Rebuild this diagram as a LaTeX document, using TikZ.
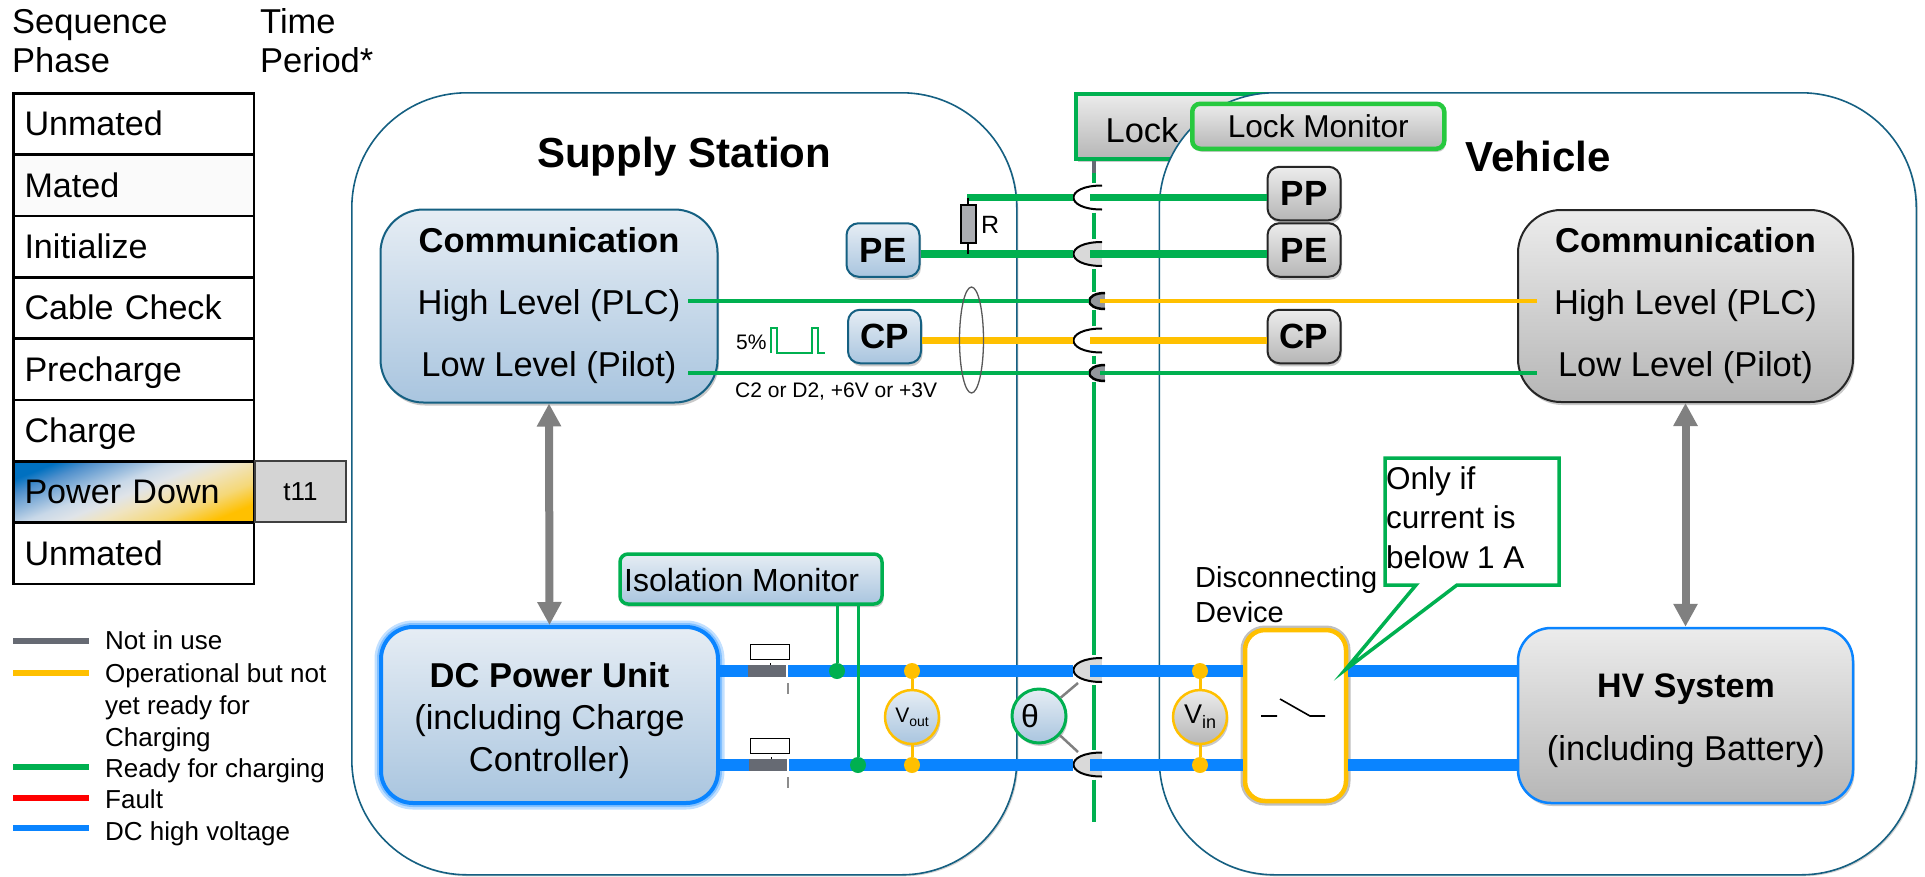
\documentclass[tikz,border=0pt]{standalone}
\usepackage{fontspec}
\setmainfont{Liberation Sans}
\usetikzlibrary{arrows.meta, shadows}

\definecolor{stationteal}{HTML}{156082}
\definecolor{okgreen}{HTML}{00B050}
\definecolor{brightgreen}{HTML}{27C93F}
\definecolor{opyellow}{HTML}{FFC000}
\definecolor{hvblue}{HTML}{0A84FF}
\definecolor{idlegray}{HTML}{666A73}
\definecolor{bluetop}{HTML}{E6EDF4}
\definecolor{bluebot}{HTML}{A9C5DF}
\definecolor{graytop}{HTML}{ECECEC}
\definecolor{graybot}{HTML}{B6B6B6}
\definecolor{phaseA}{HTML}{0070C0}
\definecolor{phaseB}{HTML}{5090CC}
\definecolor{phaseC}{HTML}{C8D8E8}
\definecolor{phaseD}{HTML}{E0E4E8}
\definecolor{phaseE}{HTML}{F0E4C0}
\definecolor{phaseF}{HTML}{F5D878}

\pgfdeclareverticalshading{phaseshade}{100bp}{color(0bp)=(opyellow); color(25bp)=(opyellow); color(34bp)=(phaseF); color(44bp)=(phaseE); color(50bp)=(phaseD); color(56bp)=(phaseC); color(69bp)=(phaseB); color(75bp)=(phaseA); color(100bp)=(phaseA)}

\tikzset{
  fs/.style 2 args={font=\fontsize{#1}{#2}\selectfont},
  softshadow/.style={drop shadow={shadow xshift=1.5pt, shadow yshift=-3pt, opacity=.35, fill=black!60}},
  seqrow/.style={draw=black, line width=2.5pt, minimum width=240.5pt, minimum height=61.3pt, inner sep=0pt,
    text width=218pt, align=left, text height=31pt, text depth=7pt, fs={34.1}{39}},
  plain/.style={inner sep=0pt, fs={34.5}{39}},
  keyswatch/.style={minimum width=76pt, minimum height=6pt, inner sep=0pt},
  keytext/.style={inner sep=0pt, align=left, fs={26}{32}},
  yard/.style={draw=stationteal, line width=1.6pt, fill=white, rounded corners=115pt, minimum height=782pt, anchor=north west,
    drop shadow={shadow xshift=1.5pt, shadow yshift=-1.5pt, opacity=.3, fill=black!60}},
  bluebox/.style={draw=stationteal, line width=2pt, top color=bluetop, bottom color=bluebot, softshadow, inner sep=0pt},
  graybox/.style={draw=black!85, line width=2pt, top color=graytop, bottom color=graybot, softshadow, inner sep=0pt},
  tagbox/.style={minimum width=73pt, minimum height=53.5pt, rounded corners=12pt, font=\fontsize{35}{37}\selectfont\bfseries},
  meter/.style={circle, minimum size=54pt, inner sep=0pt, line width=2.5pt, softshadow},
  hvdot/.style={circle, minimum size=16pt, inner sep=0pt},
  wirebig/.style={line width=7.5pt},
  wiresmall/.style={line width=4pt},
  wirehv/.style={hvblue, line width=12pt},
  latchline/.style={okgreen, line width=4pt},
  pics/jack/.style={code={
    \filldraw[fill=#1, draw=black, line width=2pt] (15,-12) .. controls (-23,-12) and (-23,12) .. (15,12);
    \coordinate (-west) at (-14,0);
    \coordinate (-east) at (3,0);
    \coordinate (-north) at (7,-15);
    \coordinate (-south) at (7,15);
  }},
  pics/jack/.default=black!15,
  pics/smalljack/.style={code={
    \filldraw[fill=idlegray!70, draw=black, line width=2.5pt] (8,-8) .. controls (-13,-8) and (-13,8) .. (8,8);
    \coordinate (-west) at (-8,0);
    \coordinate (-east) at (3,0);
    \coordinate (-north) at (-3,-9);
    \coordinate (-south) at (-3,9);
  }},
}

\begin{document}
\begin{tikzpicture}[x=1pt, y=-1pt, >=Latex]

  \useasboundingbox (0,0) rectangle (1925,876);

  % sequence table
  \node[plain, anchor=west, align=left] (seqhead) at (12,41) {Sequence\\Phase};
  \node[plain, anchor=west, align=left] (timehead) at (260,41) {Time\\Period*};

  \node[seqrow, anchor=north west] (rowA) at (12,92) {Unmated};
  \node[seqrow, anchor=north west, fill=black!2] (rowB) at (12,153.4) {Mated};
  \node[seqrow, anchor=north west] (rowC) at (12,214.7) {Initialize};
  \node[seqrow, anchor=north west] (rowD) at (12,276) {Cable Check};
  \node[seqrow, anchor=north west] (rowE) at (12,337.4) {Precharge};
  \node[seqrow, anchor=north west] (rowF) at (12,398.7) {Charge};
  \node[seqrow, anchor=north west, shade, shading=phaseshade, shading angle=22] (rowG) at (12,460) {Power Down};
  \node[seqrow, anchor=north west] (rowH) at (12,521.4) {Unmated};
  \node[draw=black!75, line width=2pt, fill=black!17, minimum width=91pt, minimum height=61.3pt, inner sep=0pt, anchor=north west, fs={26}{30}] (tcell) at (254,460) {t11};

  % key
  \node[keyswatch, fill=idlegray] (keyA) at (51,641) {};
  \node[keyswatch, fill=opyellow] (keyB) at (51,673) {};
  \node[keyswatch, fill=okgreen] (keyC) at (51,767) {};
  \node[keyswatch, fill=red] (keyD) at (51,798) {};
  \node[keyswatch, fill=hvblue] (keyE) at (51,828) {};
  \node[keytext, anchor=base west] (keytxtA) at (105,649) {Not in use};
  \node[keytext, anchor=west] (keytxtB) at (105,708) {Operational but not\\yet ready for\\Charging};
  \node[keytext, anchor=base west] (keytxtC) at (105,777) {Ready for charging};
  \node[keytext, anchor=base west] (keytxtD) at (105,808.5) {Fault};
  \node[keytext, anchor=base west] (keytxtE) at (105,840) {DC high voltage};

  % the two sides and the lock between them
  \node[yard, minimum width=665pt] (station) at (351,92) {};
  \node[draw=okgreen, line width=4pt, top color=graytop, bottom color=graybot, softshadow, minimum width=196pt, minimum height=65pt, inner sep=0pt, anchor=north west] (lockbox) at (1074,91.5) {};
  \node[plain] (locktxt) at (1142,130) {Lock};
  \node[yard, minimum width=757pt] (vehicle) at (1158.5,92) {};
  \node[draw=brightgreen, line width=4.5pt, top color=graytop, bottom color=graybot, softshadow, rounded corners=8pt, minimum width=252pt, minimum height=45pt, inner sep=0pt, fs={31.6}{34}, anchor=north west] (lockmon) at (1190,101.5) {Lock Monitor};

  \node[inner sep=0pt, font=\fontsize{42}{44}\selectfont\bfseries] (stationtxt) at (684,157) {Supply Station};
  \node[inner sep=0pt, font=\fontsize{42}{44}\selectfont\bfseries] (vehicletxt) at (1538,156) {Vehicle};

  % communication
  \node[bluebox, minimum width=337pt, minimum height=193pt, rounded corners=43pt, align=center, fs={34.5}{62}] (commL) at (549,306) {\textbf{Communication}\\High Level (PLC)\\Low Level (Pilot)};
  \node[graybox, minimum width=335pt, minimum height=192pt, rounded corners=43pt, align=center, fs={34.5}{62}] (commR) at (1685.5,306) {\textbf{Communication}\\High Level (PLC)\\Low Level (Pilot)};

  \node[bluebox, tagbox] (peL) at (883,250) {PE};
  \node[bluebox, tagbox] (cpL) at (884.5,336.5) {CP};
  \node[graybox, tagbox] (ppR) at (1304,193.5) {PP};
  \node[graybox, tagbox] (peR) at (1304,250) {PE};
  \node[graybox, tagbox] (cpR) at (1304,336.5) {CP};

  % power side
  \node[bluebox, draw=hvblue, line width=4pt, minimum width=337pt, minimum height=176pt, rounded corners=32pt,
    preaction={draw=hvblue!25, line width=13pt, rounded corners=32pt}, preaction={draw=hvblue!50, line width=8pt, rounded corners=32pt}] (dcunit) at (549.5,715) {};
  \node[inner sep=0pt, align=center, fs={34.5}{42}] (dcunittxt) at (549.5,721) {\textbf{DC Power Unit}\\(including Charge\\Controller)};
  \node[graybox, draw=hvblue, line width=2.5pt, minimum width=335pt, minimum height=175pt, rounded corners=33pt] (hvsys) at (1685.5,715.5) {};
  \node[inner sep=0pt, anchor=base, font=\fontsize{34}{36}\selectfont\bfseries] (hvtxtA) at (1686,697) {HV System};
  \node[inner sep=0pt, anchor=base, fs={34.5}{36}] (hvtxtB) at (1686,760) {(including Battery)};
  \node[draw=opyellow, line width=4.5pt, fill=white, minimum width=101pt, minimum height=171pt, rounded corners=20pt, inner sep=0pt,
    preaction={draw=black!25, line width=9pt, rounded corners=20pt}] (dswitch) at (1295.5,715.5) {};
  \node[plain, anchor=north west, align=left, fs={29}{35}] (dswitchtxt) at (1195,566) {Disconnecting\\Device};

  \draw[black, line width=1.6pt] (1261,716) -- (1277,716) (1280,699) -- (1310,716) -- (1325,716);

  \draw[line width=8pt, draw=black!50, {Triangle[length=23pt,width=23pt]}-{Triangle[length=23pt,width=23pt]}] (commL.south) -- (dcunit.north);
  \draw[line width=8pt, draw=black!50, {Triangle[length=23pt,width=23pt]}-{Triangle[length=23pt,width=23pt]}] (commR.south) -- (hvsys.north);

  % plugs at the centre
  \pic (jPP) at (1087,197.5) {jack=white};
  \pic (jPE) at (1087,254) {jack};
  \pic (jPLC) at (1097,301) {smalljack};
  \pic (jCP) at (1087,340.5) {jack=white};
  \pic (jLOW) at (1097,373) {smalljack};
  \pic (jHVa) at (1087,670) {jack};
  \pic (jHVb) at (1087,764.5) {jack};

  % lock pin
  \coordinate (pinA) at (1094,161);
  \coordinate (pinB) at (1094,173);
  \coordinate (pinEnd) at (1094,822);
  \draw[idlegray, line width=4pt] (pinA) -- (pinB);
  \draw[latchline] (pinB) -- (jPP-north);
  \draw[latchline] (jPP-south) -- (jPE-north);
  \draw[latchline] (jPE-south) -- (jPLC-north);
  \draw[latchline] (jPLC-south) -- (jCP-north);
  \draw[latchline] (jCP-south) -- (jLOW-north);
  \draw[latchline] (jLOW-south) -- (jHVa-north);
  \draw[latchline] (jHVa-south) -- (jHVb-north);
  \draw[latchline] (jHVb-south) -- (pinEnd);

  % signal wires
  \coordinate (ppstart) at (967,197.5);
  \coordinate (plcstart) at (688,301);
  \coordinate (plcend) at (1537,301);
  \coordinate (lowstart) at (688,373);
  \coordinate (lowend) at (1537,373);

  \draw[okgreen, wirebig] (ppstart) -- (jPP-west);
  \draw[okgreen, wirebig] (jPP-east) -- (ppR.west |- jPP-east);
  \draw[okgreen, wirebig] (peL.east |- jPE-west) -- (jPE-west);
  \draw[okgreen, wirebig] (jPE-east) -- (peR.west |- jPE-east);
  \draw[opyellow, wirebig] (cpL.east |- jCP-west) -- (jCP-west);
  \draw[opyellow, wirebig] (jCP-east) -- (cpR.west |- jCP-east);
  \draw[okgreen, wiresmall] (plcstart) -- (jPLC-west);
  \draw[opyellow, wiresmall] (jPLC-east) -- (plcend);
  \draw[okgreen, wiresmall] (lowstart) -- (jLOW-west);
  \draw[okgreen, wiresmall] (jLOW-east) -- (lowend);

  % pull-up resistor
  \node[draw=black, line width=2pt, fill=idlegray!55, minimum width=15pt, minimum height=38pt, inner sep=0pt] (resR) at (968,224) {};
  \coordinate (resA) at (968,197.5);
  \coordinate (resB) at (968,254);
  \draw[black, line width=1.5pt] (resA) -- (resR.north);
  \draw[black, line width=1.5pt] (resR.south) -- (resB);
  \node[inner sep=0pt, anchor=west, fs={25}{27}] (resRtxt) at (981,225) {R};

  \draw[black!65, line width=1.3pt] (971.5,340) ellipse [x radius=12, y radius=53];

  \node[inner sep=0pt, anchor=west, fs={21}{23}] (dutytxt) at (736,342) {5\%};
  \draw[okgreen, line width=1.5pt] (771,353) -- (771,328) -- (777,328) -- (777,353) -- (812,353) -- (812,328) -- (818,328) -- (818,353) -- (825,353);
  \node[inner sep=0pt, anchor=west, fs={21}{23}] (statetxt) at (735,392) {C2 or D2, +6V or +3V};

  % DC rails
  \node[fill=idlegray, minimum width=38pt, minimum height=12pt, inner sep=0pt] (contA) at (767,671) {};
  \node[fill=idlegray, minimum width=38pt, minimum height=12pt, inner sep=0pt] (contB) at (768,765) {};
  \draw[wirehv] (dcunit.east |- contA.west) -- (contA.west);
  \draw[wirehv] ([xshift=2pt]contA.east) -- (jHVa-west |- contA.east);
  \draw[wirehv] (dcunit.east |- contB.west) -- (contB.west);
  \draw[wirehv] ([xshift=2pt]contB.east) -- (jHVb-west |- contB.east);
  \draw[wirehv] (jHVa-east |- contA.east) -- (dswitch.west |- contA.east);
  \draw[wirehv] (jHVb-east |- contB.east) -- (dswitch.west |- contB.east);
  \draw[wirehv] (dswitch.east |- contA.east) -- (hvsys.west |- contA.east);
  \draw[wirehv] (dswitch.east |- contB.east) -- (hvsys.west |- contB.east);

  \node[draw=black, line width=1pt, fill=white, minimum width=39pt, minimum height=15pt, inner sep=0pt] (coilA) at (769.5,651.5) {};
  \node[draw=black, line width=1pt, fill=white, minimum width=39pt, minimum height=15pt, inner sep=0pt] (coilB) at (769.5,745.5) {};
  \draw[black!45, line width=1.5pt] (788,683) -- (788,694) (788,777) -- (788,788);
  \draw[black, line width=1pt] (770,663) -- (770,665) (771,757) -- (771,759);

  % isolation monitor
  \node[bluebox, draw=okgreen, line width=3.5pt, minimum width=262pt, minimum height=50pt, rounded corners=8pt] (isomon) at (751,579) {};
  \node[inner sep=0pt, anchor=west, fs={32}{34}] (isotxt) at (624,580) {Isolation Monitor};
  \node[hvdot, fill=okgreen] (dotisoA) at (837,671) {};
  \node[hvdot, fill=okgreen] (dotisoB) at (858,765) {};
  \draw[okgreen, line width=3pt] (isomon.south -| dotisoA) -- (dotisoA);
  \draw[okgreen, line width=3pt] (isomon.south -| dotisoB) -- (dotisoB);

  % voltage meters
  \node[meter, draw=opyellow, top color=bluetop, bottom color=bluebot, fs={21}{23}] (vout) at (912,717) {V\raisebox{-4pt}{\fontsize{14}{16}\selectfont out}};
  \node[hvdot, fill=opyellow] (dotoutA) at (912,671) {};
  \node[hvdot, fill=opyellow] (dotoutB) at (912,765) {};
  \draw[opyellow, line width=3pt] (dotoutA) -- (vout);
  \draw[opyellow, line width=3pt] (vout) -- (dotoutB);

  \node[meter, draw=opyellow, top color=graytop, bottom color=graybot, fs={27}{29}] (vin) at (1200,717) {V\raisebox{-5pt}{\fontsize{18}{20}\selectfont in}};
  \node[hvdot, fill=opyellow] (dotinA) at (1200,671) {};
  \node[hvdot, fill=opyellow] (dotinB) at (1200,765) {};
  \draw[opyellow, line width=3pt] (dotinA) -- (vin);
  \draw[opyellow, line width=3pt] (vin) -- (dotinB);

  % temperature sensor
  \coordinate (senseA) at (1078,683);
  \coordinate (senseB) at (1078,752);
  \node[meter, draw=okgreen, line width=3pt, top color=bluetop, bottom color=bluebot, fs={32}{34}] (theta) at (1039,716) {\hspace*{-18pt}θ};
  \draw[black!50, line width=2.5pt] (theta) -- (senseA);
  \draw[black!50, line width=2.5pt] (theta) -- (senseB);

  % callout
  \draw[okgreen, line width=3.5pt, fill=white, line join=miter] (1385,458) -- (1559,458) -- (1559,585) -- (1457,585) -- (1345,670) -- (1416,585) -- (1385,585) -- cycle;
  \node[inner sep=0pt, anchor=north west, align=left, fs={31.5}{39.5}] (onlyif) at (1386,466) {Only if\\current is\\below 1 A};

\end{tikzpicture}
\end{document}
